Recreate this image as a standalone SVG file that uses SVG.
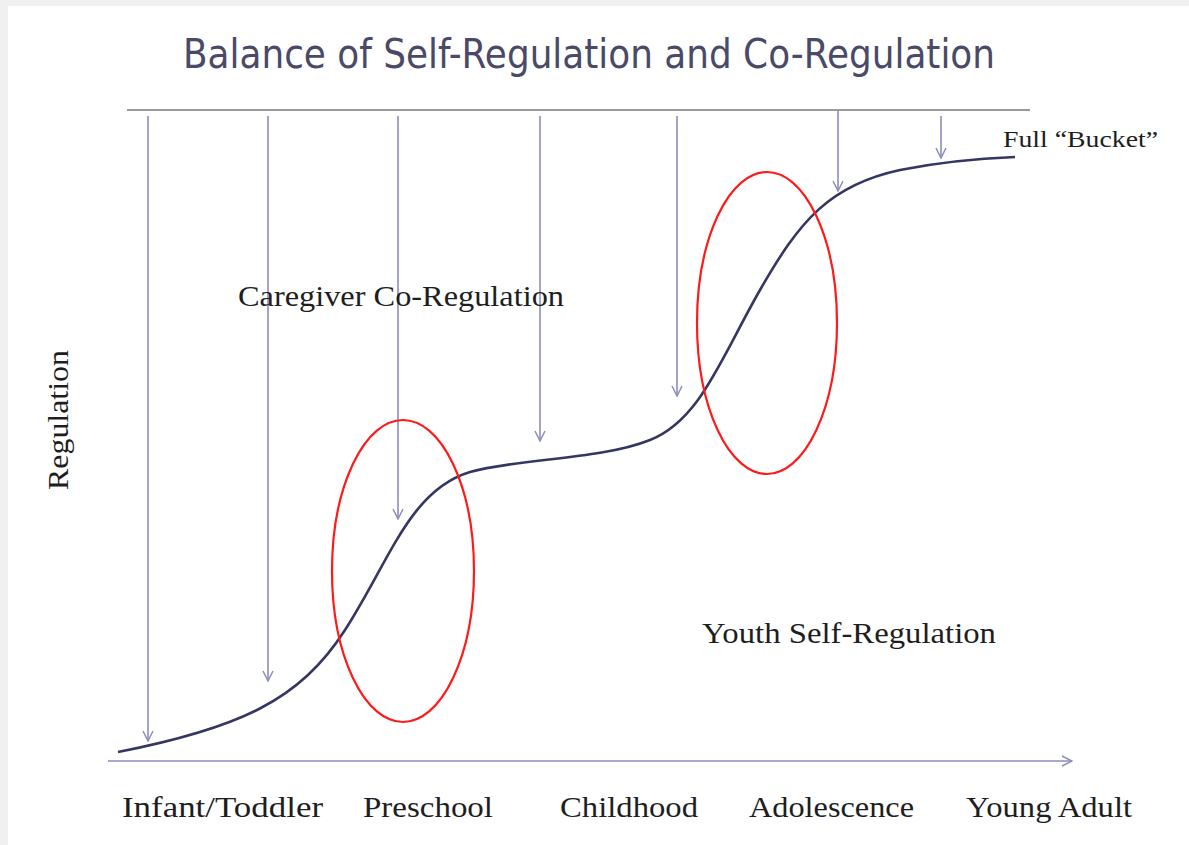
<svg xmlns="http://www.w3.org/2000/svg" width="1189" height="845" viewBox="0 0 1189 845">
<style>
.lbl{font-family:"Liberation Serif","Times New Roman",serif;font-size:29px;fill:#1e1e1e}
.arr{stroke:#8c8cbe;stroke-width:1.6;fill:none;marker-end:url(#ah)}
.ell{fill:none;stroke:#ff1a1a;stroke-width:2.2}
</style>
<defs>
<marker id="ah" viewBox="0 0 12 12" refX="11" refY="6" markerWidth="12" markerHeight="12" markerUnits="userSpaceOnUse" orient="auto">
<path d="M1,1 L11,6 L1,11" fill="none" stroke="#8c8cbe" stroke-width="1.5"/>
</marker>
</defs>
<rect x="0" y="0" width="1189" height="845" fill="#f0f0f0"/>
<rect x="8" y="6" width="1181" height="839" fill="#ffffff"/>
<g id="title"><text x="183" y="68" textLength="812" lengthAdjust="spacingAndGlyphs" style="font-family:'DejaVu Sans',sans-serif;font-size:41px;fill:#4a4a68">Balance of Self-Regulation and Co-Regulation</text></g>
<g id="connectors">
<line x1="127" y1="110" x2="1030" y2="110" stroke="#9a9a9a" stroke-width="2"/>
<line class="arr" x1="148" y1="116" x2="148" y2="741"/>
<line class="arr" x1="268" y1="116" x2="268" y2="681"/>
<line class="arr" x1="398" y1="116" x2="398" y2="519"/>
<line class="arr" x1="540" y1="116" x2="540" y2="441"/>
<line class="arr" x1="677" y1="116" x2="677" y2="396"/>
<line class="arr" x1="838" y1="110" x2="838" y2="191"/>
<line class="arr" x1="941" y1="116" x2="941" y2="158"/>
<line class="arr" x1="108" y1="761" x2="1072" y2="761"/>
</g>
<g id="curve"><path d="M118,752 C240,728 300,700 345,630 C390,560 410,490 470,472 C520,458 600,460 650,440 C700,420 720,360 760,290 C800,220 830,185 900,170 C950,160 990,158 1015,157" fill="none" stroke="#363663" stroke-width="2.6"/></g>
<g id="ellipse1"><ellipse class="ell" cx="403" cy="571" rx="71" ry="151"/></g>
<g id="ellipse2"><ellipse class="ell" cx="767" cy="323" rx="70" ry="151"/></g>
<g id="label-full"><text class="lbl" x="1003" y="147" textLength="155" lengthAdjust="spacingAndGlyphs" style="font-size:23px">Full “Bucket”</text></g>
<g id="label-caregiver"><text class="lbl" x="238" y="306" textLength="326" lengthAdjust="spacingAndGlyphs">Caregiver Co-Regulation</text></g>
<g id="label-youth"><text class="lbl" x="702" y="643" textLength="294" lengthAdjust="spacingAndGlyphs">Youth Self-Regulation</text></g>
<g id="label-regulation"><text class="lbl" transform="translate(68,490) rotate(-90)" x="0" y="0" textLength="140" lengthAdjust="spacingAndGlyphs">Regulation</text></g>
<g id="axis-labels">
<text class="lbl" x="122" y="817" textLength="201" lengthAdjust="spacingAndGlyphs">Infant/Toddler</text>
<text class="lbl" x="363" y="817" textLength="130" lengthAdjust="spacingAndGlyphs">Preschool</text>
<text class="lbl" x="560" y="817" textLength="138" lengthAdjust="spacingAndGlyphs">Childhood</text>
<text class="lbl" x="749" y="817" textLength="165" lengthAdjust="spacingAndGlyphs">Adolescence</text>
<text class="lbl" x="966" y="817" textLength="166" lengthAdjust="spacingAndGlyphs">Young Adult</text>
</g>
</svg>
